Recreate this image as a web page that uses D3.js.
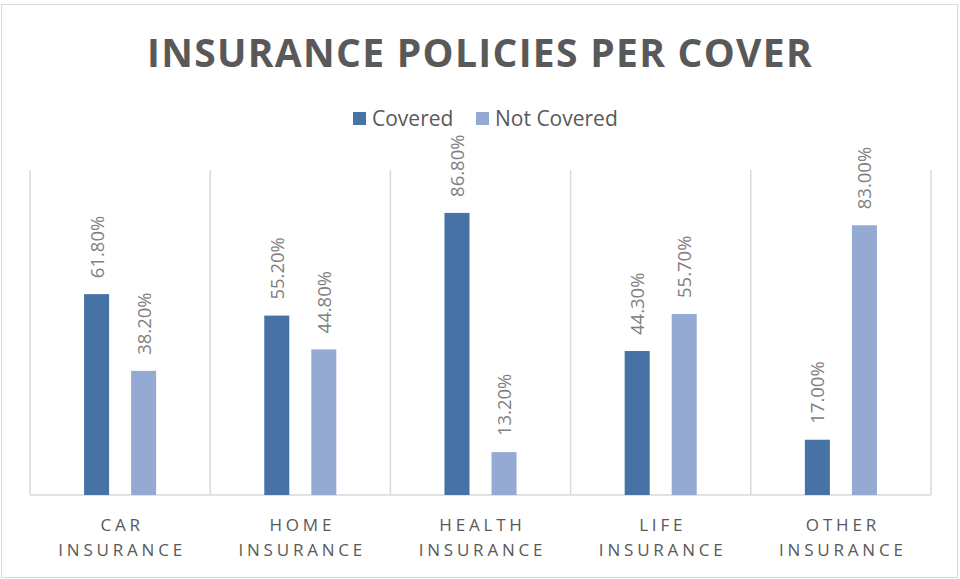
<!DOCTYPE html>
<html>
<head>
<meta charset="utf-8">
<script src="https://cdn.jsdelivr.net/npm/d3@7"></script>
<style>
  body { margin: 0; background: #fff; }
  svg text { font-family: "Open Sans", "Liberation Sans", sans-serif; }
</style>
</head>
<body>
<svg id="chart" width="960" height="579"></svg>
<script>
// chart data
var categories = ['CAR|INSURANCE', 'HOME|INSURANCE', 'HEALTH|INSURANCE', 'LIFE|INSURANCE', 'OTHER|INSURANCE'];
var seriesNames = ['Covered', 'Not Covered'];
var covered = [61.8, 55.2, 86.8, 44.3, 17.0];
var notCovered = [38.2, 44.8, 13.2, 55.7, 83.0];

var colors = ['#4672a6', '#95aad3'];
var textColor = '#595959';

var svg = d3.select('#chart');
var W = 960, H = 579;

// outer frame
svg.append('rect')
  .attr('x', 1.5).attr('y', 4.5)
  .attr('width', W - 4).attr('height', H - 6)
  .attr('fill', '#fff')
  .attr('stroke', '#d9d9d9');

// plot area (don't call it "top", that's window.top)
var plotL = 30, plotR = 931, plotT = 170, plotB = 495;

var x = d3.scaleBand()
  .domain(categories)
  .range([plotL, plotR])
  .paddingInner(0).paddingOuter(0);

// bars ~25px wide with ~22px gap inside each 180px category
var xInner = d3.scaleBand()
  .domain(seriesNames)
  .range([0, x.bandwidth()])
  .paddingInner(0.468)
  .paddingOuter(1.149);

var y = d3.scaleLinear().domain([0, 100]).range([plotB, plotT]);

// category separators
var seps = categories.map(function(c) { return x(c); }).concat([plotR]);
svg.append('g').selectAll('line')
  .data(seps)
  .enter().append('line')
  .attr('x1', function(d) { return d; })
  .attr('x2', function(d) { return d; })
  .attr('y1', plotT).attr('y2', plotB)
  .attr('stroke', '#d9d9d9').attr('stroke-width', 1.5);

// baseline
svg.append('line')
  .attr('x1', plotL).attr('x2', plotR)
  .attr('y1', plotB).attr('y2', plotB)
  .attr('stroke', '#d9d9d9').attr('stroke-width', 1.5);

var rows = categories.map(function(c, i) {
  return { cat: c, vals: [covered[i], notCovered[i]] };
});

var groups = svg.append('g').selectAll('g')
  .data(rows)
  .enter().append('g')
  .attr('transform', function(d) { return 'translate(' + x(d.cat) + ',0)'; });

groups.selectAll('rect')
  .data(function(d) { return d.vals.map(function(v, j) { return { s: seriesNames[j], v: v, j: j }; }); })
  .enter().append('rect')
  .attr('x', function(d) { return xInner(d.s); })
  .attr('width', xInner.bandwidth())
  .attr('y', function(d) { return y(d.v); })
  .attr('height', function(d) { return plotB - y(d.v); })
  .attr('fill', function(d) { return colors[d.j]; });

// value labels, rotated
groups.selectAll('text.val')
  .data(function(d) { return d.vals.map(function(v, j) { return { s: seriesNames[j], v: v }; }); })
  .enter().append('text')
  .attr('class', 'val')
  .attr('transform', function(d) {
    var cx = xInner(d.s) + xInner.bandwidth() / 2 + 7;
    return 'translate(' + cx + ',' + (y(d.v) - 16) + ') rotate(-90)';
  })
  .attr('fill', '#808080')
  .attr('font-size', 18.5)
  .text(function(d) { return d.v.toFixed(2) + '%'; });

// category labels
var xAxis = svg.append('g');
categories.forEach(function(c) {
  var parts = c.split('|');
  var t = xAxis.append('text')
    .attr('text-anchor', 'middle')
    .attr('fill', textColor)
    .attr('font-size', 17)
    .attr('letter-spacing', 3.8);
  parts.forEach(function(p, k) {
    t.append('tspan')
      .attr('x', x(c) + x.bandwidth() / 2 + 2)
      .attr('y', 531 + k * 25)
      .text(p);
  });
});

// title
svg.append('text')
  .attr('x', 480).attr('y', 67)
  .attr('text-anchor', 'middle')
  .attr('fill', textColor)
  .attr('font-size', 39)
  .attr('font-weight', 'bold')
  .attr('letter-spacing', 1.3)
  .text('INSURANCE POLICIES PER COVER');

// legend
var legend = svg.append('g');
var legX = [353, 476];
seriesNames.forEach(function(s, i) {
  legend.append('rect')
    .attr('x', legX[i]).attr('y', 112)
    .attr('width', 13).attr('height', 13)
    .attr('fill', colors[i]);
  legend.append('text')
    .attr('x', legX[i] + 19).attr('y', 126)
    .attr('fill', textColor)
    .attr('font-size', 21)
    .text(s);
});
</script>
</body>
</html>
